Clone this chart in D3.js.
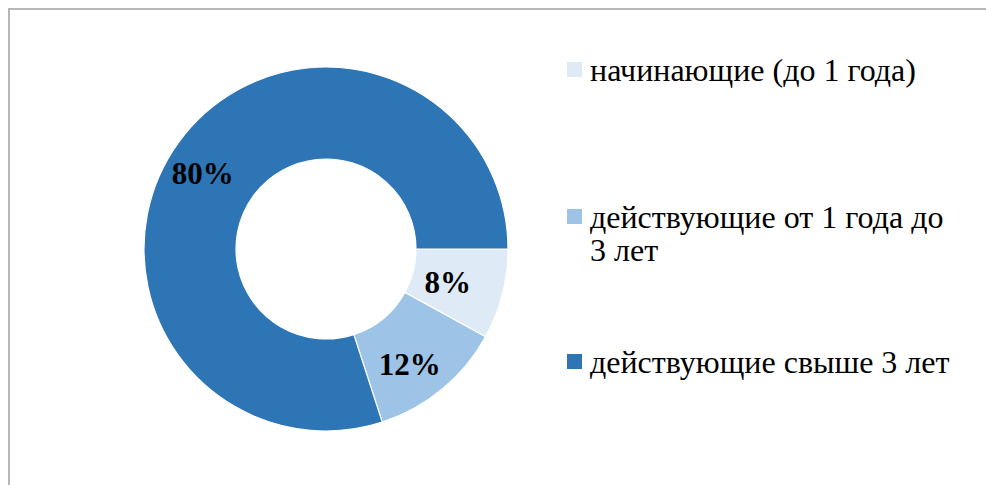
<!DOCTYPE html>
<html><head><meta charset="utf-8">
<script src="https://cdn.jsdelivr.net/npm/d3@7"></script>
<style>body{margin:0;background:#fff;}svg{display:block;}</style>
</head><body>
<svg id="chart" width="986" height="485"></svg>
<script>
const categories = ["начинающие (до 1 года)", "действующие от 1 года до 3 лет", "действующие свыше 3 лет"];
const legendLines = [["начинающие (до 1 года)"], ["действующие от 1 года до", "3 лет"], ["действующие свыше 3 лет"]];
const values = [8, 12, 80];
const labels = ["8%", "12%", "80%"];
const colors = ["#deebf7", "#9dc3e6", "#2e75b6"];

const svg = d3.select("#chart");
const W = 986, H = 485;
svg.append("rect").attr("x", 9).attr("y", 9).attr("width", W + 20).attr("height", H + 20)
  .attr("fill", "none").attr("stroke", "#a6a6a6").attr("stroke-width", 1.6);

const cx = 326, cy = 249, R = 182, r = 90;
const pie = d3.pie().sort(null).startAngle(Math.PI / 2).endAngle(Math.PI / 2 + 2 * Math.PI);
const arcs = pie(values);
const arc = d3.arc().innerRadius(r).outerRadius(R);
const g = svg.append("g").attr("transform", `translate(${cx},${cy})`);
g.selectAll("path").data(arcs).join("path")
  .attr("d", arc).attr("fill", (d, i) => colors[i])
  .attr("stroke", "#fff").attr("stroke-width", 1.2);

// label layout (radius, angle shift in degrees) tuned to reference placement
const labelLayout = [{rad: 126, shift: 0.7}, {rad: 142, shift: 3.5}, {rad: 145, shift: -4.3}];
g.selectAll("text.lbl").data(arcs).join("text").attr("class", "lbl")
  .attr("x", (d, i) => { const a = (d.startAngle + d.endAngle) / 2 + labelLayout[i].shift * Math.PI / 180; return labelLayout[i].rad * Math.sin(a); })
  .attr("y", (d, i) => { const a = (d.startAngle + d.endAngle) / 2 + labelLayout[i].shift * Math.PI / 180; return -labelLayout[i].rad * Math.cos(a); })
  .attr("dy", "0.35em")
  .attr("text-anchor", "middle")
  .attr("font-family", "'Liberation Serif', 'Times New Roman', serif")
  .attr("font-weight", "bold").attr("font-size", 31).attr("fill", "#000")
  .text((d, i) => labels[i]);

const legendTop = [62, 209, 354];
const lg = svg.append("g");
categories.forEach((c, i) => {
  lg.append("rect").attr("x", 567).attr("y", legendTop[i]).attr("width", 15).attr("height", 15).attr("fill", colors[i]);
  const t = lg.append("text").attr("x", 590).attr("y", legendTop[i] + 19)
    .attr("font-family", "'Liberation Serif', 'Times New Roman', serif")
    .attr("font-size", 32).attr("fill", "#000");
  legendLines[i].forEach((ln, j) => t.append("tspan").attr("x", 590).attr("dy", j === 0 ? 0 : 33).text(ln));
});
</script>
</body></html>
